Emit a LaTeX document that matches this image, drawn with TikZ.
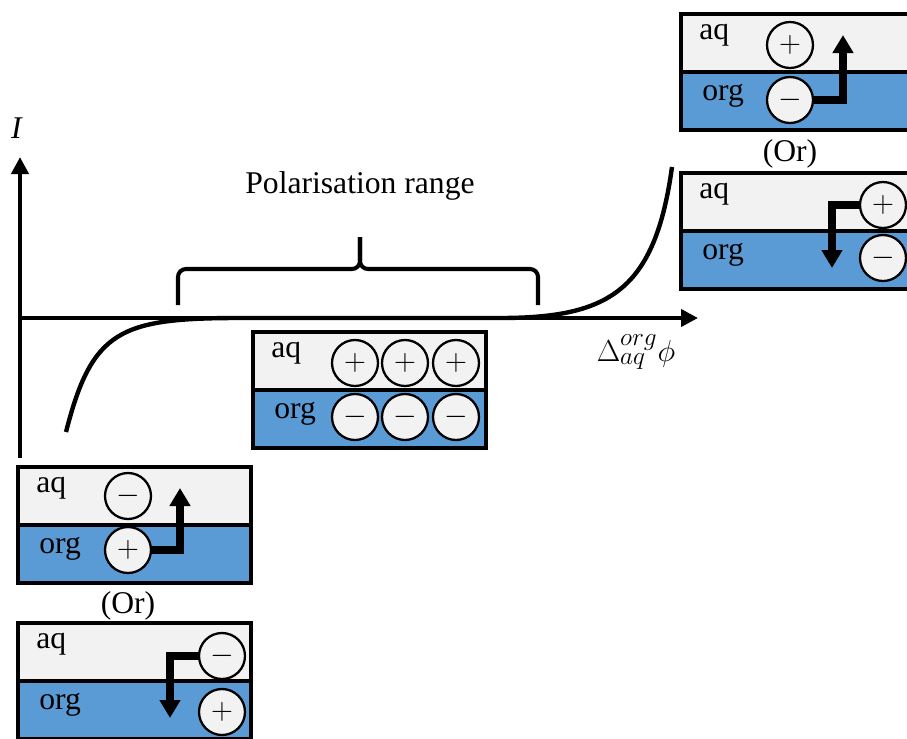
\documentclass[tikz,border=0pt]{standalone}
\usepackage{fontspec}
\setmainfont{Liberation Serif}
\usetikzlibrary{arrows.meta,positioning,calc}
\definecolor{aqgray}{HTML}{F2F2F2}
\definecolor{orgblue}{HTML}{5B9BD5}
\tikzset{%
  aqlayer/.style  = {draw, fill=aqgray, line width=2.5pt, rectangle, outer sep=0pt,
    minimum width=4.66cm, minimum height=1.16cm},
  orglayer/.style = {aqlayer, fill=orgblue},
  ion/.style      = {draw, circle, fill=aqgray, line width=1.3pt, inner sep=0pt,
    minimum size=0.92cm, font=\fontsize{18}{18}\selectfont}, % charge
  lbl/.style      = {inner sep=0pt, font=\fontsize{18}{22}\selectfont},
  axis/.style     = {line width=2.3pt, -{Triangle[width=0.34cm,length=0.34cm]}},
  move/.style     = {line width=4.6pt, -{Triangle[width=0.4cm,length=0.36cm]}}, % transfer
  curve/.style    = {line width=2.5pt},
  brace/.style    = {line width=2.3pt, rounded corners=0.16cm}
}
\newcommand{\pos}{$+$}
\newcommand{\nega}{$-$}
% two-phase cell: name, x, y of top left corner
\newcommand{\interface}[3]{%
  \node [aqlayer, anchor=north west] (#1aq) at (#2,#3) {};
  \node [orglayer, anchor=north] (#1org) at (#1aq.south) {};
  \node [lbl, anchor=west] (#1aqt) at ([shift={(0.36cm,0.16cm)}]#1aq.west) {aq};
  \node [lbl, anchor=west] (#1orgt) at ([shift={(0.42cm,0.1cm)}]#1org.west) {org};
}

\begin{document}
\begin{tikzpicture}[x=0.02cm, y=-0.02cm]
        \useasboundingbox (0,0) rectangle (907,738);
        \clip (0,0) rectangle (907,738);

        % axes
        \coordinate (o) at (20,318);
        \coordinate (ybot) at (20,458);
        \coordinate (ytop) at (20,157);
        \coordinate (xend) at (698,318);
        \draw[axis] (ybot) -- (ytop);
        \draw[axis] (o) -- (xend);
        \node[lbl] (ilabel) at (17,128) {\textit{I}};
        \node[lbl, font=\fontsize{19}{22}\selectfont] (xlabel) at (636,352) {$\Delta_{aq}^{org}\phi$};

        % current
        \draw[curve] (66,432) .. controls (92,330) and (120,318) .. (240,318)
            -- (500,318) .. controls (610,318) and (655,290) .. (672,167);

        % polarisation range
        \coordinate (bl) at (178,305);
        \coordinate (br) at (538,305);
        \coordinate (bm) at (360,269);
        \coordinate (btip) at (360,237);
        \draw[brace] (bl) |- (bm) -- (btip);
        \draw[brace] (br) |- (bm) -- (btip);
        \node[lbl] (prange) at (360,186) {Polarisation range};

        % middle cell
        \interface{mid}{253}{332}
        \foreach \i/\x in {1/355,2/405,3/456} {
            \node[ion] (mp\i) at (\x,363) {\pos};
            \node[ion] (mn\i) at (\x,417) {\nega};
        }

        % right cells
        \interface{tra}{681}{14}
        \node[ion] (trap) at (790,45) {\pos};
        \node[ion] (tran) at (790,100) {\nega};
        \coordinate (trat) at (843,35);
        \draw[move] (tran.east) -| (trat);
        \node[lbl] (or1) at (790,154) {(Or)};
        \interface{trb}{681}{173}
        \node[ion] (trbp) at (883,205) {\pos};
        \node[ion] (trbn) at (883,258) {\nega};
        \coordinate (trbt) at (832,268);
        \draw[move] (trbp.west) -| (trbt);

        % left cells
        \interface{bla}{18}{467}
        \node[ion] (blan) at (128,496) {\nega};
        \node[ion] (blap) at (128,550) {\pos};
        \coordinate (blat) at (180,488);
        \draw[move] (blap.east) -| (blat);
        \node[lbl] (or2) at (128,606) {(Or)};
        \interface{blb}{18}{623}
        \node[ion] (blbn) at (222,656) {\nega};
        \node[ion] (blbp) at (222,712) {\pos};
        \coordinate (blbt) at (170,718);
        \draw[move] (blbn.west) -| (blbt);
\end{tikzpicture}
\end{document}
